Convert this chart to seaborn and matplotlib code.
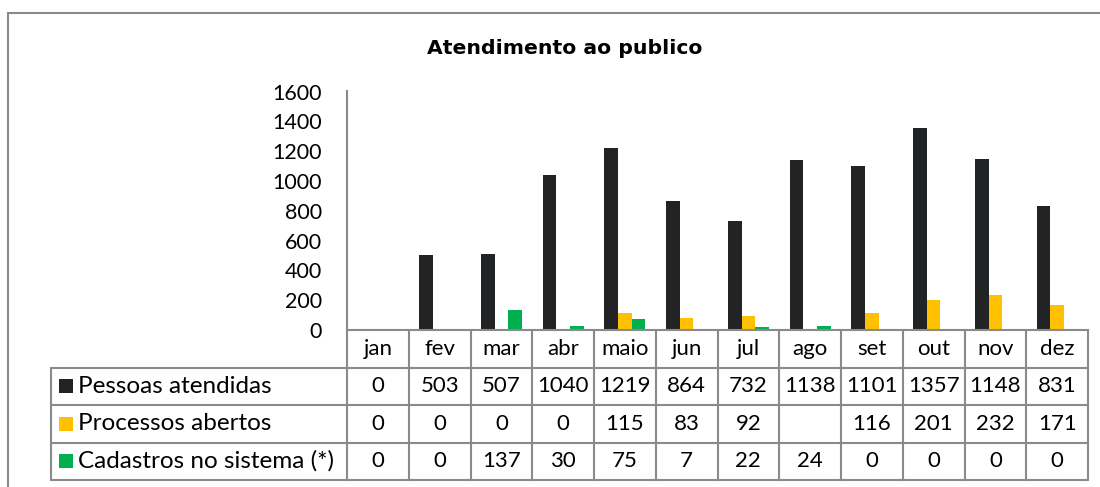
import numpy as np
import pandas as pd
import matplotlib
matplotlib.use("Agg")
import matplotlib.pyplot as plt
import seaborn as sns
from matplotlib.patches import Rectangle
from matplotlib.lines import Line2D

# ---- data ----
months = ["jan", "fev", "mar", "abr", "maio", "jun", "jul", "ago", "set", "out", "nov", "dez"]
series_names = ["Pessoas atendidas", "Processos abertos", "Cadastros no sistema (*)"]
pessoas = [0, 503, 507, 1040, 1219, 864, 732, 1138, 1101, 1357, 1148, 831]
processos = [0, 0, 0, 0, 115, 83, 92, np.nan, 116, 201, 232, 171]
cadastros = [0, 0, 137, 30, 75, 7, 22, 24, 0, 0, 0, 0]
colors = ["#222325", "#ffc000", "#00b050"]
yticks = [0, 200, 400, 600, 800, 1000, 1200, 1400, 1600]
title = "Atendimento ao publico"

series_values = [pessoas, processos, cadastros]
df = pd.DataFrame({
    "mes": months * 3,
    "serie": sum([[s] * len(months) for s in series_names], []),
    "valor": pessoas + processos + cadastros,
})

sns.set_style("white")
plt.rcParams["font.family"] = ["Lato", "DejaVu Sans"]

W, H = 1100, 487
fig = plt.figure(figsize=(W / 100, H / 100), dpi=100)
fig.patch.set_facecolor("white")

# outer chart border
fig.patches.append(Rectangle((8 / W, -0.2), 1.3, (1 - 12.5 / H) + 0.2,
                             transform=fig.transFigure, fill=False,
                             edgecolor="#8a8a8a", lw=1.5))

fig.text(565 / W, 1 - 48 / H, title, ha="center", va="center",
         fontsize=14.7, fontweight="bold", color="#000000",
         family=["DejaVu Sans"])

# ---- bar axes ----
ax = fig.add_axes([347 / W, 1 - 330 / H, (1088 - 347) / W, (330 - 91.5) / H])
sns.barplot(data=df, x="mes", y="valor", hue="serie", order=months,
            hue_order=series_names, palette=colors, width=0.667, gap=0,
            errorbar=None, legend=False, ax=ax, saturation=1,
            edgecolor="none", linewidth=0)
ax.set_xlim(-0.5, len(months) - 0.5)
ax.set_ylim(0, 1600)
ax.set_yticks(yticks)
ax.set_yticklabels([str(v) for v in yticks], fontsize=15.5)
ax.set_xticks([])
ax.set_xlabel("")
ax.set_ylabel("")
ax.tick_params(axis="y", length=0, pad=18, colors="#000000")
for s in ["top", "right"]:
    ax.spines[s].set_visible(False)
for s in ["left", "bottom"]:
    ax.spines[s].set_color("#8a8a8a")
    ax.spines[s].set_linewidth(1.5)
ax.set_facecolor("white")

# ---- data table ----
tax = fig.add_axes([347 / W, 1 - 480 / H, (1088 - 347) / W, (480 - 330) / H])
tax.set_xlim(-0.5, len(months) - 0.5)
tax.set_ylim(4, 0)
tax.axis("off")
lc = "#8a8a8a"
left_edge = -0.5 - (347 - 50.7) / ((1088 - 347) / len(months))
n = len(months)
# vertical lines
for i in range(n + 1):
    tax.add_line(Line2D([i - 0.5, i - 0.5], [0, 4], color=lc, lw=1.5, clip_on=False))
tax.add_line(Line2D([left_edge, left_edge], [1, 4], color=lc, lw=1.5, clip_on=False))
# horizontal lines
for r in range(1, 5):
    tax.add_line(Line2D([left_edge, n - 0.5], [r, r], color=lc, lw=1.5, clip_on=False))

fs = 16
for i, m in enumerate(months):
    tax.text(i, 0.5, m, ha="center", va="center", fontsize=fs, color="#000000")
for r, (name, vals, col) in enumerate(zip(series_names, series_values, colors), start=1):
    tax.scatter([left_edge + 0.25], [r + 0.5], marker="s", s=95, color=col,
                clip_on=False, linewidths=0)
    tax.text(left_edge + 0.44, r + 0.5, name, ha="left", va="center",
             fontsize=17.5, color="#000000", clip_on=False)
    for i, v in enumerate(vals):
        txt = "" if (v is None or (isinstance(v, float) and np.isnan(v))) else str(int(v))
        tax.text(i, r + 0.5, txt, ha="center", va="center", fontsize=fs, color="#000000")

fig.savefig("out.png", dpi=100, facecolor="white")
